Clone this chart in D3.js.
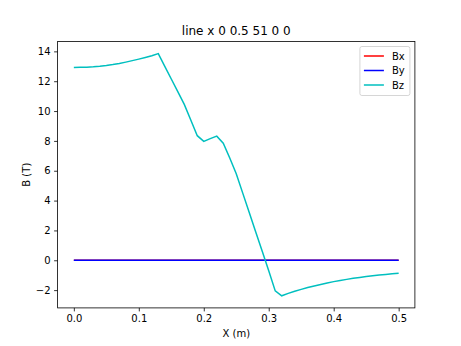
<!DOCTYPE html>
<html>
<head>
<meta charset="utf-8">
<script src="https://cdn.jsdelivr.net/npm/d3@7"></script>
<style>
  body { margin: 0; background: #fff; }
  svg { font-family: "DejaVu Sans", sans-serif; }
</style>
</head>
<body>
<div id="chart"></div>
<script>
// sample positions along the line (51 points)
const xs = [0.00, 0.01, 0.02, 0.03, 0.04, 0.05, 0.06, 0.07, 0.08, 0.09,
  0.10, 0.11, 0.12, 0.13, 0.14, 0.15, 0.16, 0.17, 0.18, 0.19,
  0.20, 0.21, 0.22, 0.23, 0.24, 0.25, 0.26, 0.27, 0.28, 0.29,
  0.30, 0.31, 0.32, 0.33, 0.34, 0.35, 0.36, 0.37, 0.38, 0.39,
  0.40, 0.41, 0.42, 0.43, 0.44, 0.45, 0.46, 0.47, 0.48, 0.49, 0.50];

const bx = [0, 0, 0, 0, 0, 0, 0, 0, 0, 0, 0, 0, 0, 0, 0, 0, 0, 0, 0, 0, 0, 0, 0, 0, 0, 0,
  0, 0, 0, 0, 0, 0, 0, 0, 0, 0, 0, 0, 0, 0, 0, 0, 0, 0, 0, 0, 0, 0, 0, 0, 0];
const by = [0, 0, 0, 0, 0, 0, 0, 0, 0, 0, 0, 0, 0, 0, 0, 0, 0, 0, 0, 0, 0, 0, 0, 0, 0, 0,
  0, 0, 0, 0, 0, 0, 0, 0, 0, 0, 0, 0, 0, 0, 0, 0, 0, 0, 0, 0, 0, 0, 0, 0, 0];
const bz = [12.92, 12.93, 12.94, 12.97, 13.01, 13.06, 13.12, 13.19, 13.28, 13.38,
  13.48, 13.59, 13.71, 13.85, 13.00, 12.15, 11.30, 10.45, 9.40, 8.35,
  7.97, 8.15, 8.32, 7.85, 6.85, 5.80, 4.50, 3.20, 1.90, 0.60,
  -0.70, -2.05, -2.38, -2.22, -2.08, -1.95, -1.83, -1.72, -1.62, -1.52,
  -1.43, -1.35, -1.28, -1.21, -1.15, -1.09, -1.04, -0.99, -0.95, -0.91, -0.87];

const xTicks = [0.0, 0.1, 0.2, 0.3, 0.4, 0.5];
const yTicks = [-2, 0, 2, 4, 6, 8, 10, 12, 14];

const series = [
  { name: 'Bx', values: bx, color: '#ff0000' },
  { name: 'By', values: by, color: '#0000ff' },
  { name: 'Bz', values: bz, color: '#00bfbf' }
];

const width = 461, height = 346;
const margin = { left: 57.6, right: 46.1, top: 41.5, bottom: 38.1 };
const iw = width - margin.left - margin.right;
const ih = height - margin.top - margin.bottom;

const svg = d3.select('#chart').append('svg')
  .attr('width', width)
  .attr('height', height);

// matplotlib-style 5% padding around the data
const allY = bx.concat(by, bz);
const yMin = d3.min(allY), yMax = d3.max(allY);
const yPad = (yMax - yMin) * 0.05;
const xPad = (d3.max(xs) - d3.min(xs)) * 0.05;

const x = d3.scaleLinear()
  .domain([d3.min(xs) - xPad, d3.max(xs) + xPad])
  .range([0, iw]);
const y = d3.scaleLinear()
  .domain([yMin - yPad, yMax + yPad])
  .range([ih, 0]);

const g = svg.append('g')
  .attr('transform', `translate(${margin.left},${margin.top})`);

const minus = v => String(v).replace('-', '\u2212');

// axes
const xAxis = g.append('g')
  .attr('transform', `translate(0,${ih})`)
  .call(d3.axisBottom(x).tickValues(xTicks).tickFormat(d3.format('.1f'))
    .tickSize(3.5).tickPadding(3.5).tickSizeOuter(0));
const yAxis = g.append('g')
  .call(d3.axisLeft(y).tickValues(yTicks).tickFormat(minus)
    .tickSize(3.5).tickPadding(3.5).tickSizeOuter(0));

[xAxis, yAxis].forEach(ax => {
  ax.select('.domain').remove();
  ax.selectAll('.tick line').attr('stroke', '#000').attr('stroke-width', 0.8);
  ax.selectAll('.tick text')
    .attr('fill', '#000')
    .style('font-size', '10px')
    .style('font-family', '"DejaVu Sans", sans-serif');
});

// lines
const line = d3.line()
  .x((d, i) => x(xs[i]))
  .y(d => y(d));

series.forEach(s => {
  g.append('path')
    .datum(s.values)
    .attr('fill', 'none')
    .attr('stroke', s.color)
    .attr('stroke-width', 1.5)
    .attr('d', line);
});

// frame
g.append('rect')
  .attr('width', iw)
  .attr('height', ih)
  .attr('fill', 'none')
  .attr('stroke', '#000')
  .attr('stroke-width', 0.8);

// title and axis labels
svg.append('text')
  .attr('x', margin.left + iw / 2)
  .attr('y', 35)
  .attr('text-anchor', 'middle')
  .style('font-size', '12px')
  .text('line x 0 0.5 51 0 0');

svg.append('text')
  .attr('x', margin.left + iw / 2)
  .attr('y', 337)
  .attr('text-anchor', 'middle')
  .style('font-size', '10px')
  .text('X (m)');

svg.append('text')
  .attr('transform', `translate(30,${margin.top + ih / 2}) rotate(-90)`)
  .attr('text-anchor', 'middle')
  .style('font-size', '10px')
  .text('B (T)');

// legend
const legend = g.append('g')
  .attr('transform', `translate(${iw - 55},${5})`);

legend.append('rect')
  .attr('width', 50)
  .attr('height', 49)
  .attr('rx', 2)
  .attr('fill', '#fff')
  .attr('fill-opacity', 0.8)
  .attr('stroke', '#cccccc')
  .attr('stroke-width', 0.8);

series.forEach((s, i) => {
  const row = legend.append('g')
    .attr('transform', `translate(0,${9.5 + i * 14.5})`);
  row.append('line')
    .attr('x1', 4).attr('x2', 24)
    .attr('stroke', s.color)
    .attr('stroke-width', 1.5);
  row.append('text')
    .attr('x', 32)
    .attr('y', 3.6)
    .style('font-size', '10px')
    .text(s.name);
});
</script>
</body>
</html>
